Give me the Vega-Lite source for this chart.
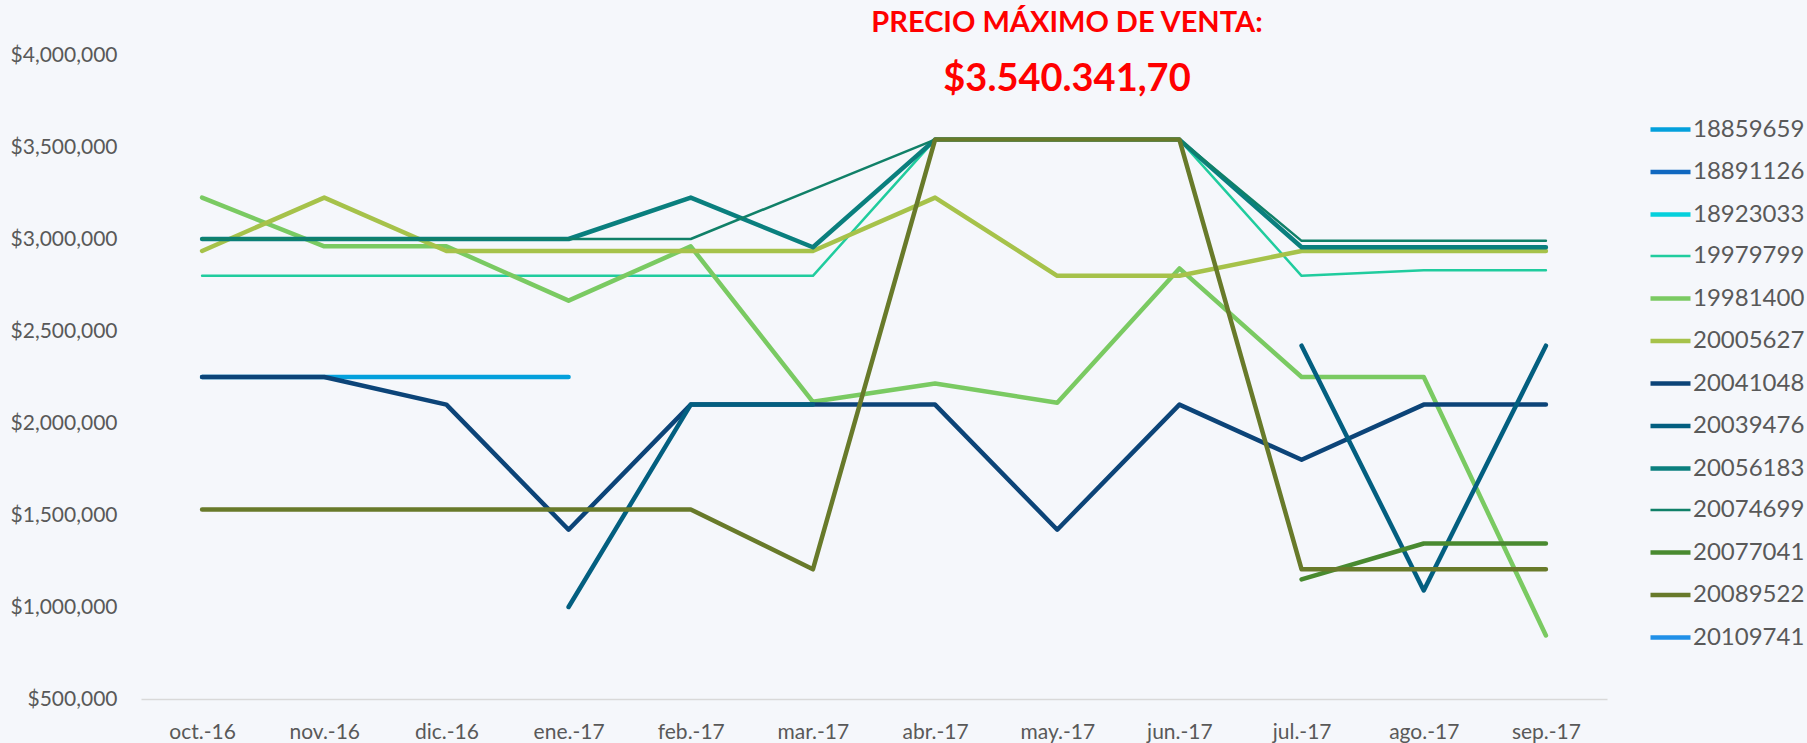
{
  "$schema": "https://vega.github.io/schema/vega-lite/v6.json",
  "width": 1466,
  "height": 644,
  "autosize": {"type": "none"},
  "padding": {"left": 141, "top": 55, "right": 200, "bottom": 44},
  "background": "#f5f7fb",
  "title": {
    "text": "PRECIO MÁXIMO DE VENTA:",
    "subtitle": "$3.540.341,70",
    "color": "#ff0000",
    "subtitleColor": "#ff0000",
    "font": "Lato",
    "subtitleFont": "Lato",
    "fontSize": 29,
    "subtitleFontSize": 38,
    "fontWeight": "bold",
    "subtitleFontWeight": "bold",
    "anchor": "middle",
    "frame": "group",
    "dx": 193,
    "offset": -55,
    "subtitlePadding": 23
  },
  "config": {"view": {"stroke": null}, "font": "Lato"},
  "data": {
    "values": [
      {"serie": "18859659", "mes": "oct.-16", "precio": 2250000},
      {"serie": "18859659", "mes": "nov.-16", "precio": 2250000},
      {"serie": "18859659", "mes": "dic.-16", "precio": 2250000},
      {"serie": "18859659", "mes": "ene.-17", "precio": 2250000},

      {"serie": "19979799", "mes": "oct.-16", "precio": 2800000},
      {"serie": "19979799", "mes": "nov.-16", "precio": 2800000},
      {"serie": "19979799", "mes": "dic.-16", "precio": 2800000},
      {"serie": "19979799", "mes": "ene.-17", "precio": 2800000},
      {"serie": "19979799", "mes": "feb.-17", "precio": 2800000},
      {"serie": "19979799", "mes": "mar.-17", "precio": 2800000},
      {"serie": "19979799", "mes": "abr.-17", "precio": 3540341.7},
      {"serie": "19979799", "mes": "may.-17", "precio": 3540341.7},
      {"serie": "19979799", "mes": "jun.-17", "precio": 3540341.7},
      {"serie": "19979799", "mes": "jul.-17", "precio": 2800000},
      {"serie": "19979799", "mes": "ago.-17", "precio": 2830000},
      {"serie": "19979799", "mes": "sep.-17", "precio": 2830000},

      {"serie": "19981400", "mes": "oct.-16", "precio": 3225000},
      {"serie": "19981400", "mes": "nov.-16", "precio": 2960000},
      {"serie": "19981400", "mes": "dic.-16", "precio": 2960000},
      {"serie": "19981400", "mes": "ene.-17", "precio": 2665000},
      {"serie": "19981400", "mes": "feb.-17", "precio": 2960000},
      {"serie": "19981400", "mes": "mar.-17", "precio": 2115000},
      {"serie": "19981400", "mes": "abr.-17", "precio": 2215000},
      {"serie": "19981400", "mes": "may.-17", "precio": 2110000},
      {"serie": "19981400", "mes": "jun.-17", "precio": 2840000},
      {"serie": "19981400", "mes": "jul.-17", "precio": 2250000},
      {"serie": "19981400", "mes": "ago.-17", "precio": 2250000},
      {"serie": "19981400", "mes": "sep.-17", "precio": 845000},

      {"serie": "20005627", "mes": "oct.-16", "precio": 2935000},
      {"serie": "20005627", "mes": "nov.-16", "precio": 3225000},
      {"serie": "20005627", "mes": "dic.-16", "precio": 2935000},
      {"serie": "20005627", "mes": "ene.-17", "precio": 2935000},
      {"serie": "20005627", "mes": "feb.-17", "precio": 2935000},
      {"serie": "20005627", "mes": "mar.-17", "precio": 2935000},
      {"serie": "20005627", "mes": "abr.-17", "precio": 3225000},
      {"serie": "20005627", "mes": "may.-17", "precio": 2800000},
      {"serie": "20005627", "mes": "jun.-17", "precio": 2800000},
      {"serie": "20005627", "mes": "jul.-17", "precio": 2935000},
      {"serie": "20005627", "mes": "ago.-17", "precio": 2935000},
      {"serie": "20005627", "mes": "sep.-17", "precio": 2935000},

      {"serie": "20041048", "mes": "oct.-16", "precio": 2250000},
      {"serie": "20041048", "mes": "nov.-16", "precio": 2250000},
      {"serie": "20041048", "mes": "dic.-16", "precio": 2100000},
      {"serie": "20041048", "mes": "ene.-17", "precio": 1420000},
      {"serie": "20041048", "mes": "feb.-17", "precio": 2100000},
      {"serie": "20041048", "mes": "mar.-17", "precio": 2100000},
      {"serie": "20041048", "mes": "abr.-17", "precio": 2100000},
      {"serie": "20041048", "mes": "may.-17", "precio": 1420000},
      {"serie": "20041048", "mes": "jun.-17", "precio": 2100000},
      {"serie": "20041048", "mes": "jul.-17", "precio": 1800000},
      {"serie": "20041048", "mes": "ago.-17", "precio": 2100000},
      {"serie": "20041048", "mes": "sep.-17", "precio": 2100000},

      {"serie": "20039476", "mes": "ene.-17", "precio": 1000000},
      {"serie": "20039476", "mes": "feb.-17", "precio": 2100000},
      {"serie": "20039476", "mes": "mar.-17", "precio": 2100000},
      {"serie": "20039476", "mes": "abr.-17", "precio": null},
      {"serie": "20039476", "mes": "may.-17", "precio": null},
      {"serie": "20039476", "mes": "jun.-17", "precio": null},
      {"serie": "20039476", "mes": "jul.-17", "precio": 2420000},
      {"serie": "20039476", "mes": "ago.-17", "precio": 1090000},
      {"serie": "20039476", "mes": "sep.-17", "precio": 2420000},

      {"serie": "20056183", "mes": "oct.-16", "precio": 3000000},
      {"serie": "20056183", "mes": "nov.-16", "precio": 3000000},
      {"serie": "20056183", "mes": "dic.-16", "precio": 3000000},
      {"serie": "20056183", "mes": "ene.-17", "precio": 3000000},
      {"serie": "20056183", "mes": "feb.-17", "precio": 3225000},
      {"serie": "20056183", "mes": "mar.-17", "precio": 2955000},
      {"serie": "20056183", "mes": "abr.-17", "precio": 3540341.7},
      {"serie": "20056183", "mes": "may.-17", "precio": 3540341.7},
      {"serie": "20056183", "mes": "jun.-17", "precio": 3540341.7},
      {"serie": "20056183", "mes": "jul.-17", "precio": 2955000},
      {"serie": "20056183", "mes": "ago.-17", "precio": 2955000},
      {"serie": "20056183", "mes": "sep.-17", "precio": 2955000},

      {"serie": "20074699", "mes": "oct.-16", "precio": 3000000},
      {"serie": "20074699", "mes": "nov.-16", "precio": 3000000},
      {"serie": "20074699", "mes": "dic.-16", "precio": 3000000},
      {"serie": "20074699", "mes": "ene.-17", "precio": 3000000},
      {"serie": "20074699", "mes": "feb.-17", "precio": 3000000},
      {"serie": "20074699", "mes": "mar.-17", "precio": 3270000},
      {"serie": "20074699", "mes": "abr.-17", "precio": 3540341.7},
      {"serie": "20074699", "mes": "may.-17", "precio": 3540341.7},
      {"serie": "20074699", "mes": "jun.-17", "precio": 3540341.7},
      {"serie": "20074699", "mes": "jul.-17", "precio": 2990000},
      {"serie": "20074699", "mes": "ago.-17", "precio": 2990000},
      {"serie": "20074699", "mes": "sep.-17", "precio": 2990000},

      {"serie": "20077041", "mes": "jul.-17", "precio": 1150000},
      {"serie": "20077041", "mes": "ago.-17", "precio": 1345000},
      {"serie": "20077041", "mes": "sep.-17", "precio": 1345000},

      {"serie": "20089522", "mes": "oct.-16", "precio": 1530000},
      {"serie": "20089522", "mes": "nov.-16", "precio": 1530000},
      {"serie": "20089522", "mes": "dic.-16", "precio": 1530000},
      {"serie": "20089522", "mes": "ene.-17", "precio": 1530000},
      {"serie": "20089522", "mes": "feb.-17", "precio": 1530000},
      {"serie": "20089522", "mes": "mar.-17", "precio": 1205000},
      {"serie": "20089522", "mes": "abr.-17", "precio": 3540341.7},
      {"serie": "20089522", "mes": "may.-17", "precio": 3540341.7},
      {"serie": "20089522", "mes": "jun.-17", "precio": 3540341.7},
      {"serie": "20089522", "mes": "jul.-17", "precio": 1205000},
      {"serie": "20089522", "mes": "ago.-17", "precio": 1205000},
      {"serie": "20089522", "mes": "sep.-17", "precio": 1205000}
    ]
  },
  "mark": {"type": "line", "strokeCap": "round", "strokeJoin": "round", "invalid": "break-paths-show-domains"},
  "encoding": {
    "x": {
      "field": "mes",
      "type": "ordinal",
      "sort": ["oct.-16", "nov.-16", "dic.-16", "ene.-17", "feb.-17", "mar.-17", "abr.-17", "may.-17", "jun.-17", "jul.-17", "ago.-17", "sep.-17"],
      "scale": {"type": "point", "padding": 0.5},
      "axis": {"title": null, "labelAngle": 0, "ticks": false, "domainColor": "#d9d9d9", "domainWidth": 1.5, "labelFontSize": 21, "labelColor": "#595959", "labelPadding": 22, "labelFont": "Lato", "grid": false}
    },
    "y": {
      "field": "precio",
      "type": "quantitative",
      "scale": {"domain": [500000, 4000000], "nice": false, "zero": false},
      "axis": {"title": null, "values": [500000, 1000000, 1500000, 2000000, 2500000, 3000000, 3500000, 4000000], "format": "$,.0f", "domain": false, "ticks": false, "grid": false, "labelFontSize": 21, "labelColor": "#595959", "labelPadding": 24, "labelFont": "Lato"}
    },
    "color": {
      "field": "serie",
      "type": "nominal",
      "scale": {
        "domain": ["18859659", "18891126", "18923033", "19979799", "19981400", "20005627", "20041048", "20039476", "20056183", "20074699", "20077041", "20089522", "20109741"],
        "range": ["#03a0dc", "#1068c0", "#05d0dc", "#20cc9e", "#7aca62", "#a6c24a", "#0c4478", "#035f80", "#0a7f7e", "#108068", "#498a30", "#687a2a", "#2090e8"]
      },
      "legend": {"title": null, "orient": "none", "legendX": 1507, "legendY": 52, "symbolType": "stroke", "symbolSize": 1600, "labelFontSize": 24, "labelColor": "#595959", "labelFont": "Lato", "rowPadding": 7.5, "labelOffset": 0, "padding": 0}
    },
    "strokeWidth": {
      "field": "serie",
      "type": "nominal",
      "scale": {
        "type": "ordinal",
        "domain": ["18859659", "18891126", "18923033", "19979799", "19981400", "20005627", "20041048", "20039476", "20056183", "20074699", "20077041", "20089522", "20109741"],
        "range": [4.5, 4.5, 4.5, 2.5, 4.5, 4.5, 4.5, 4.5, 4.5, 2.5, 4.5, 4.5, 4.5]
      },
      "legend": {"title": null, "orient": "none", "legendX": 1507, "legendY": 52, "symbolType": "stroke", "symbolSize": 1600, "labelFontSize": 24, "labelColor": "#595959", "labelFont": "Lato", "rowPadding": 7.5, "labelOffset": 0, "padding": 0}
    }
  }
}
